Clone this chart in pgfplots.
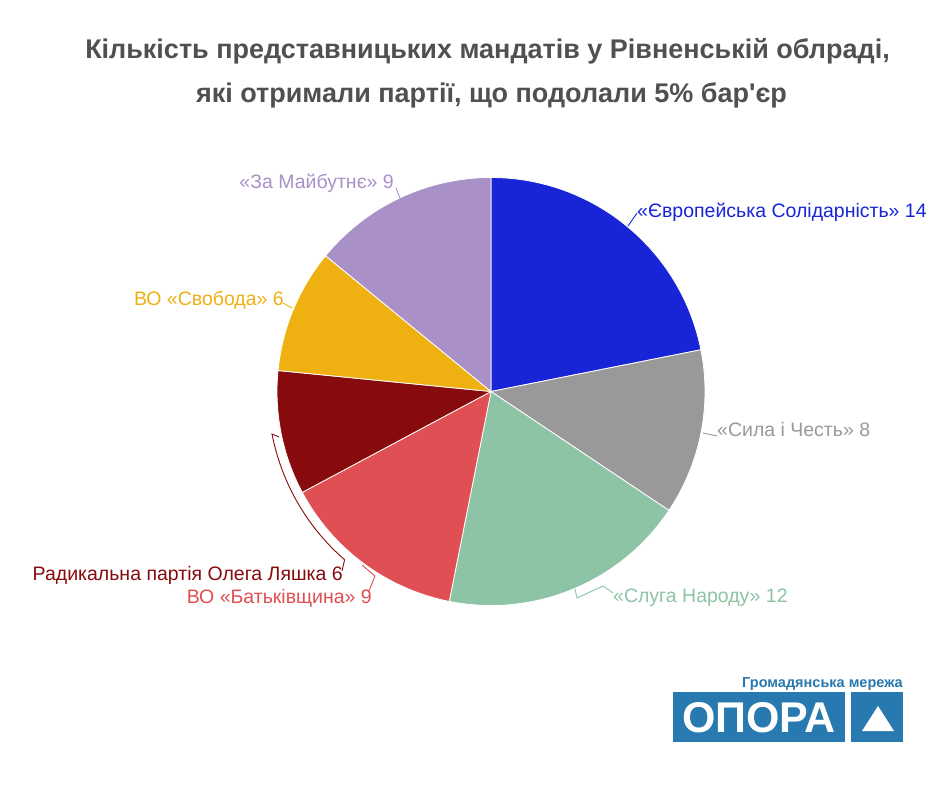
\documentclass[border=0pt]{standalone}
\usepackage{fontspec}
\setmainfont{Liberation Sans}
\usepackage{pgfplots}
\pgfplotsset{compat=1.18}
\definecolor{cES}{RGB}{23,37,215}
\definecolor{cSila}{RGB}{153,153,153}
\definecolor{cSluha}{RGB}{141,196,166}
\definecolor{cBat}{RGB}{224,79,83}
\definecolor{cRad}{RGB}{135,10,12}
\definecolor{cSvo}{RGB}{239,177,18}
\definecolor{cZa}{RGB}{169,145,199}
\definecolor{cTitle}{RGB}{80,80,80}
\definecolor{cLogo}{RGB}{40,121,176}
\begin{document}
\begin{tikzpicture}
\begin{axis}[
  x=1pt, y=1pt, xmin=0, xmax=940, ymin=0, ymax=788,
  y dir=reverse, hide axis, clip=false, scale only axis]
\pgfplotsextra{
  \fill[white] (axis cs:0,0) rectangle (axis cs:940,788);
  % pie: values 14, 8, 12, 9, 6, 6, 9 (total 64)
  \gdef\acc{90}
  \foreach \v/\c in {14/cES,8/cSila,12/cSluha,9/cBat,6/cRad,6/cSvo,9/cZa}{
    \pgfmathsetmacro\s{\acc}
    \pgfmathsetmacro\e{\acc-\v*360/64}
    \fill[\c, draw=white, line width=0.8pt] (axis cs:491,391.5) -- ++(\s:214pt)
      arc[start angle=\s, end angle=\e, radius=214pt] -- cycle;
    \xdef\acc{\e}
  }
  % title
  \node[anchor=base, text=cTitle, font=\fontsize{27}{30}\selectfont\bfseries, inner sep=0pt]
    at (axis cs:487.5,58) {Кількість представницьких мандатів у Рівненській облраді,};
  \node[anchor=base, text=cTitle, font=\fontsize{27}{30}\selectfont\bfseries, inner sep=0pt]
    at (axis cs:491.5,102) {які отримали партії, що подолали 5\% бар{\addfontfeature{Ligatures=TeXOff}'}єр};
  % leaders
  \draw[cES, line width=0.9pt] (axis cs:628,226) -- (axis cs:637,213);
  \draw[cSila, line width=0.9pt] (axis cs:703,433) -- (axis cs:717,436);
  \draw[cSluha, line width=0.9pt] (axis cs:575,589) -- (axis cs:577,598) -- (axis cs:603,586) -- (axis cs:613,593);
  \draw[cZa, line width=0.9pt] (axis cs:396,188) -- (axis cs:400,198);
  \draw[cSvo, line width=0.9pt] (axis cs:283,303) -- (axis cs:292,308);
  \draw[cRad, line width=0.9pt] (axis cs:279,437) -- (axis cs:272,434)
     arc[start angle=191, end angle=229, radius=223pt] -- (axis cs:342,571);
  \draw[cBat, line width=0.9pt] (axis cs:362,565) -- (axis cs:375,576) -- (axis cs:369,591);
  % labels
  \tikzset{lab/.style={font=\fontsize{19.5}{22}\selectfont, inner sep=0pt}}
  \node[lab, anchor=base west, text=cES] at (axis cs:637,217) {«Європейська Солідарність» 14};
  \node[lab, anchor=base west, text=cSila] at (axis cs:717,436) {«Сила і Честь» 8};
  \node[lab, anchor=base west, text=cSluha] at (axis cs:613,602) {«Слуга Народу» 12};
  \node[lab, anchor=base east, text=cZa] at (axis cs:394,188.5) {«За Майбутнє» 9};
  \node[lab, anchor=base east, text=cSvo] at (axis cs:284,305) {ВО «Свобода» 6};
  \node[lab, anchor=base east, text=cRad] at (axis cs:343,580) {Радикальна партія Олега Ляшка 6};
  \node[lab, anchor=base east, text=cBat] at (axis cs:372,603.5) {ВО «Батьківщина» 9};
  % logo
  \node[anchor=base east, text=cLogo, font=\fontsize{14.5}{16}\selectfont\bfseries, inner sep=0pt]
    at (axis cs:903,687) {Громадянська мережа};
  \fill[cLogo] (axis cs:673,692) rectangle (axis cs:845,742);
  \fill[cLogo] (axis cs:851,692) rectangle (axis cs:903,742);
  \fill[white] (axis cs:878,706) -- (axis cs:862,731) -- (axis cs:894,731) -- cycle;
  \node[anchor=center, text=white, font=\fontsize{43}{44}\selectfont\bfseries, inner sep=0pt]
    at (axis cs:759,718) {ОПОРА};
}
\end{axis}
\end{tikzpicture}
\end{document}
